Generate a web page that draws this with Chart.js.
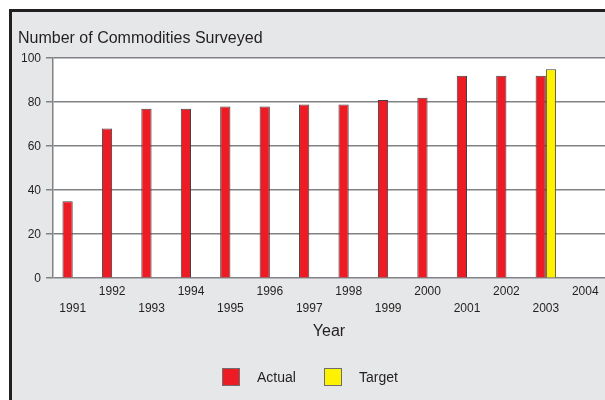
<!DOCTYPE html>
<html>
<head>
<meta charset="utf-8">
<script src="https://cdn.jsdelivr.net/npm/chart.js@4.4.1/dist/chart.umd.min.js"></script>
<style>
  html, body { margin: 0; padding: 0; background: #fff; }
  #wrap { position: relative; width: 605px; height: 400px; overflow: hidden; font-family: "Liberation Sans", Arial, sans-serif; }
  #frame { position: absolute; left: 9px; top: 9px; right: 0; bottom: 0; background: #e6e7e8; border-top: 3px solid #231f20; border-left: 3px solid #231f20; }
  #box { position: absolute; left: 0; top: 0; width: 605px; height: 400px; }
  #legend { position: absolute; top: 368px; left: 0; width: 605px; height: 20px; }
  .item { position: absolute; top: 0; height: 18px; font-size: 14px; color: #231f20; line-height: 18px; }
  .sw { position: absolute; left: 0; top: 0; width: 16px; height: 16px; border: 1px solid #6d6e71; }
  .lbl { position: absolute; top: 0; white-space: nowrap; }
</style>
</head>
<body>
<div id="wrap">
  <div id="frame"></div>
  <div id="box"><canvas id="chart"></canvas></div>
  <div id="legend"></div>
</div>
<script>
const years = ['1991', '1992', '1993', '1994', '1995', '1996', '1997', '1998', '1999', '2000', '2001', '2002', '2003', '2004'];
const actual = [35, 68, 77, 77, 78, 78, 79, 79, 81, 82, 92, 92, 92, null];
const target = [null, null, null, null, null, null, null, null, null, null, null, null, 95, null];
const yTicks = [0, 20, 40, 60, 80, 100];

const textColor = '#231f20';
const gridColor = '#808285';

// white plot background
const plotBg = {
    id: 'plotBg',
    beforeDraw(chart) {
        const a = chart.chartArea;
        const ctx = chart.ctx;
        ctx.save();
        ctx.fillStyle = '#ffffff';
        ctx.fillRect(a.left, a.top, a.right - a.left, a.bottom - a.top);
        ctx.restore();
    }
};

const chart = new Chart(document.getElementById('chart'), {
    type: 'bar',
    data: {
        labels: years,
        datasets: [
            { label: 'Actual', data: actual, backgroundColor: '#ed1c24', borderColor: '#414042', borderWidth: 1 },
            { label: 'Target', data: target, backgroundColor: '#fff200', borderColor: '#414042', borderWidth: 1 }
        ]
    },
    options: {
        responsive: true,
        maintainAspectRatio: false,
        animation: false,
        categoryPercentage: 0.52,
        barPercentage: 1,
        layout: { padding: { left: 18, right: 0, top: 29, bottom: 59 } },
        plugins: {
            legend: { display: false },
            tooltip: { enabled: false },
            title: {
                display: true,
                text: 'Number of Commodities Surveyed',
                align: 'start',
                color: textColor,
                font: { family: 'Liberation Sans', size: 16, weight: 'normal' },
                padding: { top: 0, bottom: 10 }
            }
        },
        scales: {
            x: {
                grid: { display: false, drawTicks: false },
                border: { display: false },
                ticks: {
                    color: textColor,
                    font: { family: 'Liberation Sans', size: 12, lineHeight: 1.4 },
                    padding: 5,
                    maxRotation: 0,
                    autoSkip: false,
                    callback: (v, i) => i % 2 === 0 ? ['', years[i]] : [years[i]]
                },
                title: {
                    display: true,
                    text: 'Year',
                    color: textColor,
                    font: { family: 'Liberation Sans', size: 16 },
                    padding: { top: 0, bottom: 0 }
                }
            },
            y: {
                min: 0,
                max: 100,
                afterBuildTicks: s => { s.ticks = yTicks.map(v => ({ value: v })); },
                afterFit: s => { s.width = 35; },
                grid: { color: gridColor, lineWidth: 1.5, tickLength: 7 },
                border: { color: gridColor, width: 1.5 },
                ticks: {
                    color: textColor,
                    font: { family: 'Liberation Sans', size: 12 },
                    padding: 5
                }
            }
        }
    },
    plugins: [plotBg]
});

// html legend built from the datasets
const legend = document.getElementById('legend');
const legendX = [222, 324];
chart.data.datasets.forEach((ds, i) => {
    const item = document.createElement('div');
    item.className = 'item';
    item.style.left = legendX[i] + 'px';
    item.innerHTML = `<div class="sw" style="background:${ds.backgroundColor}"></div><div class="lbl" style="left:35px">${ds.label}</div>`;
    legend.appendChild(item);
});
</script>
</body>
</html>
